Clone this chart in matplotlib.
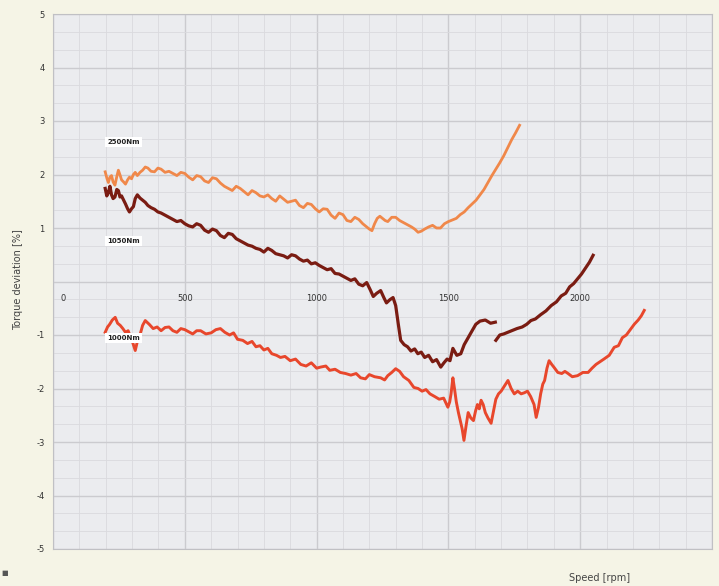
import matplotlib.pyplot as plt
from matplotlib.ticker import MultipleLocator

# torque deviation [%] vs speed [rpm]
rpm_2500 = [198, 205, 210, 216, 222, 228, 235, 242, 248, 255, 260, 268, 275, 283, 290, 298, 305,
            312, 320, 330, 340, 350, 360, 372, 385, 398, 410, 425, 440, 455, 470, 485, 500, 515,
            530, 545, 560, 575, 590, 605, 620, 635, 650, 665, 680, 695, 710, 725, 740, 755, 770,
            785, 800, 815, 830, 845, 860, 875, 890, 905, 920, 935, 950, 965, 980, 995, 1010, 1025,
            1040, 1055, 1070, 1085, 1100, 1115, 1130, 1145, 1160, 1175, 1190, 1200, 1210, 1220,
            1230, 1240, 1250, 1260, 1270, 1285, 1300, 1315, 1330, 1345, 1360, 1372, 1385, 1397,
            1410, 1425, 1440, 1455, 1470, 1485, 1500, 1515, 1530, 1545, 1560, 1575, 1590, 1605,
            1620, 1635, 1650, 1665, 1680, 1695, 1710, 1725, 1740, 1755, 1770]
dev_2500 = [2.05, 1.92, 1.85, 1.95, 1.98, 1.86, 1.80, 1.96, 2.08, 1.98, 1.90, 1.86, 1.82, 1.90,
            1.95, 1.92, 2.00, 2.04, 1.98, 2.04, 2.08, 2.14, 2.12, 2.06, 2.05, 2.12, 2.10, 2.04,
            2.06, 2.02, 1.98, 2.04, 2.02, 1.95, 1.90, 1.98, 1.96, 1.88, 1.85, 1.94, 1.92, 1.84,
            1.78, 1.74, 1.70, 1.78, 1.74, 1.68, 1.62, 1.70, 1.66, 1.60, 1.58, 1.62, 1.55, 1.50,
            1.60, 1.54, 1.48, 1.50, 1.52, 1.42, 1.38, 1.46, 1.44, 1.36, 1.30, 1.36, 1.35, 1.24,
            1.18, 1.28, 1.25, 1.14, 1.12, 1.20, 1.16, 1.08, 1.02, 0.98, 0.95, 1.08, 1.18, 1.22,
            1.18, 1.14, 1.12, 1.20, 1.20, 1.14, 1.10, 1.06, 1.02, 0.98, 0.92, 0.94, 0.98, 1.02,
            1.05, 1.00, 1.00, 1.08, 1.12, 1.15, 1.18, 1.25, 1.30, 1.38, 1.45, 1.52, 1.62, 1.72,
            1.85, 1.98, 2.10, 2.22, 2.35, 2.50, 2.65, 2.78, 2.92]

rpm_1050 = [198, 204, 210, 216, 222, 228, 235, 242, 248, 254, 260, 268, 275, 283, 290, 298, 305,
            312, 320, 330, 340, 350, 360, 372, 385, 398, 410, 425, 440, 455, 470, 485, 500, 515,
            530, 545, 560, 575, 590, 605, 620, 635, 650, 665, 680, 695, 710, 725, 740, 755, 770,
            785, 800, 815, 830, 845, 860, 875, 890, 905, 920, 935, 950, 965, 980, 995, 1010, 1025,
            1040, 1055, 1070, 1085, 1100, 1115, 1130, 1145, 1160, 1175, 1190, 1203, 1215, 1228,
            1243, 1255, 1265, 1278, 1290, 1300, 1310, 1319, 1332, 1345, 1358, 1372, 1384, 1397,
            1410, 1425, 1440, 1455, 1471, 1483, 1495, 1506, 1517, 1532, 1547, 1560, 1575, 1590,
            1604, 1620, 1640, 1660, 1678]
dev_1050 = [1.74, 1.60, 1.66, 1.78, 1.62, 1.55, 1.58, 1.72, 1.70, 1.58, 1.60, 1.52, 1.45, 1.36,
            1.30, 1.36, 1.40, 1.55, 1.62, 1.56, 1.52, 1.48, 1.42, 1.38, 1.35, 1.30, 1.28, 1.24,
            1.20, 1.16, 1.12, 1.14, 1.08, 1.04, 1.02, 1.08, 1.05, 0.96, 0.92, 0.98, 0.95, 0.86,
            0.82, 0.90, 0.88, 0.80, 0.76, 0.72, 0.68, 0.66, 0.62, 0.60, 0.55, 0.62, 0.58, 0.52,
            0.50, 0.48, 0.44, 0.50, 0.48, 0.42, 0.38, 0.40, 0.33, 0.35, 0.30, 0.26, 0.22, 0.24,
            0.15, 0.14, 0.10, 0.06, 0.02, 0.05, -0.05, -0.08, -0.02, -0.15, -0.28, -0.22, -0.17,
            -0.30, -0.40, -0.34, -0.30, -0.45, -0.80, -1.10, -1.18, -1.22, -1.30, -1.26, -1.35,
            -1.32, -1.42, -1.38, -1.50, -1.46, -1.60, -1.52, -1.45, -1.48, -1.25, -1.38, -1.35,
            -1.18, -1.05, -0.92, -0.80, -0.74, -0.72, -0.78, -0.76]
rpm_1050b = [1680, 1695, 1710, 1725, 1740, 1760, 1780, 1797, 1813, 1830, 1850, 1870, 1890, 1910,
             1928, 1945, 1960, 1975, 1990, 2005, 2020, 2035, 2049]
dev_1050b = [-1.10, -1.00, -0.98, -0.95, -0.92, -0.88, -0.85, -0.80, -0.73, -0.70, -0.62, -0.55,
             -0.45, -0.38, -0.27, -0.22, -0.10, -0.04, 0.05, 0.14, 0.25, 0.36, 0.49]

rpm_1000 = [198, 207, 215, 225, 236, 245, 255, 265, 275, 285, 295, 303, 312, 320, 330, 340, 350,
            365, 380, 395, 410, 425, 440, 455, 470, 485, 500, 515, 530, 545, 560, 580, 600, 618,
            635, 652, 670, 685, 700, 720, 738, 755, 770, 785, 800, 815, 830, 848, 863, 880, 900,
            920, 940, 960, 980, 1000, 1015, 1035, 1050, 1070, 1090, 1110, 1130, 1150, 1167, 1185,
            1200, 1220, 1243, 1258, 1270, 1285, 1300, 1315, 1330, 1350, 1369, 1385, 1400, 1415,
            1430, 1448, 1465, 1482, 1498, 1505, 1510, 1517, 1523, 1530, 1538, 1545, 1552, 1559,
            1567, 1575, 1585, 1595, 1603, 1610, 1617, 1624, 1632, 1640, 1650, 1662, 1670, 1680,
            1690, 1700, 1713, 1726, 1738, 1750, 1763, 1776, 1788, 1800, 1812, 1825, 1833, 1842,
            1850, 1858, 1865, 1874, 1882, 1892, 1900, 1915, 1930, 1942, 1954, 1970, 1990, 2010,
            2030, 2045, 2060, 2075, 2090, 2110, 2129, 2145, 2160, 2175, 2190, 2205, 2220, 2232,
            2243]
dev_1000 = [-0.95, -0.85, -0.80, -0.72, -0.67, -0.78, -0.82, -0.88, -0.95, -0.92, -1.05, -1.15,
            -1.29, -1.12, -1.00, -0.82, -0.73, -0.80, -0.88, -0.85, -0.92, -0.86, -0.85, -0.92,
            -0.95, -0.88, -0.90, -0.94, -0.98, -0.92, -0.92, -0.98, -0.96, -0.90, -0.88, -0.95,
            -1.00, -0.96, -1.08, -1.10, -1.16, -1.12, -1.22, -1.20, -1.28, -1.25, -1.35, -1.38,
            -1.42, -1.40, -1.48, -1.45, -1.55, -1.58, -1.52, -1.62, -1.60, -1.58, -1.66, -1.64,
            -1.70, -1.72, -1.75, -1.72, -1.80, -1.82, -1.74, -1.78, -1.80, -1.84, -1.76, -1.70,
            -1.63, -1.68, -1.78, -1.85, -1.98, -2.00, -2.05, -2.02, -2.10, -2.15, -2.20, -2.18,
            -2.35, -2.25, -2.10, -1.80, -2.00, -2.25, -2.45, -2.60, -2.75, -2.97, -2.70, -2.45,
            -2.55, -2.60, -2.42, -2.30, -2.38, -2.22, -2.30, -2.45, -2.55, -2.65, -2.45, -2.20,
            -2.10, -2.05, -1.95, -1.85, -2.00, -2.10, -2.05, -2.10, -2.08, -2.05, -2.15, -2.30,
            -2.54, -2.35, -2.10, -1.92, -1.85, -1.62, -1.48, -1.55, -1.60, -1.70, -1.72, -1.68,
            -1.72, -1.78, -1.76, -1.70, -1.70, -1.62, -1.55, -1.50, -1.45, -1.38, -1.23, -1.20,
            -1.05, -1.00, -0.90, -0.80, -0.72, -0.64, -0.54]

x_ticks = [0, 500, 1000, 1500, 2000]
y_ticks = [-5, -4, -3, -2, -1, 0, 1, 2, 3, 4, 5]
y_tick_labels = ["-5", "-4", "-3", "-2", "-1", "", "1", "2", "3", "4", "5"]

fig = plt.figure(figsize=(7.19, 5.86), dpi=100, facecolor="#f5f4e6")
ax = fig.add_axes([53 / 719, 37 / 586, 659 / 719, 535 / 586])
ax.set_facecolor("#ebecef")

ax.plot(rpm_2500, dev_2500, color="#f0884a", lw=2.0, solid_joinstyle="round")
ax.plot(rpm_1050, dev_1050, color="#7a1c12", lw=2.3, solid_joinstyle="round")
ax.plot(rpm_1050b, dev_1050b, color="#7a1c12", lw=2.3, solid_joinstyle="round")
ax.plot(rpm_1000, dev_1000, color="#e8472c", lw=2.1, solid_joinstyle="round")

ax.set_xlim(0, 2500)
ax.set_ylim(-5, 5)
ax.xaxis.set_major_locator(MultipleLocator(500))
ax.xaxis.set_minor_locator(MultipleLocator(100))
ax.yaxis.set_minor_locator(MultipleLocator(1 / 3))
ax.set_yticks(y_ticks)
ax.set_yticklabels(y_tick_labels)
ax.set_xticklabels([])
ax.grid(which="major", color="#cbcbcf", lw=1.0)
ax.grid(which="minor", color="#dadade", lw=0.6)
ax.set_axisbelow(True)
ax.tick_params(which="both", length=0)
ax.tick_params(axis="y", labelsize=6, colors="#333333", pad=6)
for s in ax.spines.values():
    s.set_color("#c0c0c4")

# speed labels sit just under the zero line
for t in x_ticks:
    ax.text(max(t, 40), -0.32, str(t), fontsize=6, color="#333333", ha="center", va="center")

box = dict(facecolor="white", edgecolor="none", pad=1.5)
ax.text(205, 2.6, "2500Nm", fontsize=5, fontweight="bold", color="#222222", bbox=box, va="center")
ax.text(205, 0.75, "1050Nm", fontsize=5, fontweight="bold", color="#222222", bbox=box, va="center")
ax.text(205, -1.05, "1000Nm", fontsize=5, fontweight="bold", color="#222222", bbox=box, va="center")

fig.text(18 / 719, 1 - 280 / 586, "Torque deviation [%]", rotation=90, fontsize=7,
         color="#444444", ha="center", va="center")
fig.text(600 / 719, 1 - 578 / 586, "Speed [rpm]", fontsize=7, color="#444444",
         ha="center", va="center")
fig.text(5 / 719, 1 - 573 / 586, "■", fontsize=5, color="#555555", ha="center", va="center")

fig.savefig("out.png", dpi=100, facecolor=fig.get_facecolor())
